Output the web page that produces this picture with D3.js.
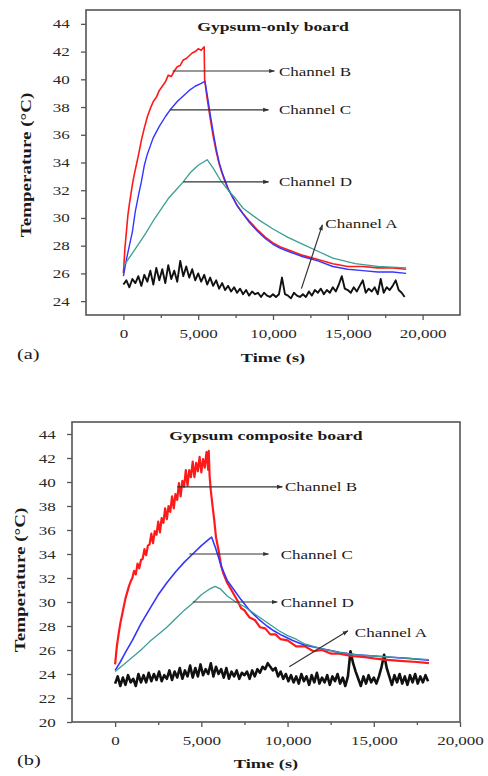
<!DOCTYPE html>
<html><head><meta charset="utf-8">
<script src="https://cdn.jsdelivr.net/npm/d3@7"></script>
<style>
body{margin:0;background:#fff;}
svg{display:block;font-family:"Liberation Serif","Times New Roman",serif;}
</style></head>
<body>
<svg id="chart" width="488" height="776"></svg>
<script>
// ---------------- DATA ----------------
// Panel (a): Gypsum-only board
const a_title = "Gypsum-only board";
const a_xTicks = [0, 5000, 10000, 15000, 20000];
const a_xMinor = [2500, 7500, 12500, 17500];
const a_yTicks = [24, 26, 28, 30, 32, 34, 36, 38, 40, 42, 44];

const a_B_t = [0,100,200,300,400,500,600,700,800,900,1000,1200,1400,1600,1800,2000,2200,2400,2600,2800,3000,3200,3400,3600,3800,4000,4200,4400,4600,4800,5000,5200,5400,5430,5600,5800,6000,6200,6400,6600,6800,7000,7300,7600,8000,8400,9000,9500,10000,10500,11000,12000,13000,14000,15000,16000,17000,18000,18900];
const a_B_v = [26.0,27.8,29.0,30.2,31.0,31.7,32.4,33.0,33.5,34.0,34.5,35.6,36.5,37.3,37.9,38.4,38.7,39.2,39.5,39.8,40.3,40.2,40.6,40.9,41.0,41.4,41.5,41.7,41.9,42.0,42.2,42.1,42.35,40.0,38.6,37.2,35.9,34.8,33.9,33.2,32.6,32.1,31.5,30.9,30.3,29.8,29.1,28.6,28.2,27.9,27.7,27.3,27.0,26.7,26.5,26.5,26.4,26.4,26.3];

const a_C_t = [0,100,200,300,400,600,800,1000,1200,1400,1600,1800,2000,2400,2800,3200,3600,4000,4400,4800,5200,5450,5600,5800,6000,6200,6400,6600,6800,7000,7300,7600,8000,8400,9000,9500,10000,10500,11000,12000,13000,14000,15000,16000,17000,18000,18900];
const a_C_v = [25.8,26.4,27.0,27.5,28.0,29.0,30.5,31.6,32.6,33.8,34.6,35.2,35.8,36.6,37.3,37.9,38.4,38.8,39.2,39.5,39.7,39.85,38.9,37.5,36.2,35.0,34.0,33.3,32.7,32.1,31.5,30.9,30.3,29.7,29.0,28.5,28.1,27.8,27.6,27.2,26.9,26.5,26.3,26.2,26.1,26.1,26.0];

const a_D_t = [0,500,1000,1500,2000,2500,3000,3500,4000,4500,5000,5600,6000,6500,7000,7500,8000,9000,10000,11000,12000,13000,14000,15500,17000,18900];
const a_D_v = [26.5,27.3,28.1,28.9,29.8,30.6,31.4,32.0,32.6,33.3,33.8,34.2,33.6,32.7,32.0,31.4,30.7,29.9,29.2,28.6,28.1,27.6,27.1,26.7,26.5,26.4];

const a_A_step = 200; // sample interval (s)
const a_A_v = [25.2,25.5,25.0,25.6,25.3,25.8,
  25.1,25.9,25.4,26.2,25.2,
  26.4,25.5,26.3,25.3,26.6,
  25.6,26.2,25.4,26.9,25.8,
  26.5,25.7,26.3,25.5,26.0,
  25.4,25.9,25.2,25.7,25.1,
  25.5,24.9,25.3,24.8,25.1,
  24.7,25.0,24.6,24.9,24.5,
  24.8,24.4,24.7,24.5,24.6,
  24.3,24.6,24.4,24.3,24.5,
  24.3,24.5,25.7,24.5,24.4,
  24.2,24.6,24.4,24.3,24.5,
  24.3,24.7,24.4,24.8,24.6,
  24.9,24.5,24.8,24.6,25.0,
  24.7,25.2,25.8,24.9,24.8,
  24.6,25.0,24.7,25.1,25.5,
  24.6,24.9,24.7,25.0,24.5,
  25.6,24.6,25.0,24.8,25.1,
  25.5,24.8,24.6,24.3];

// annotations (data units): [label, fromT, fromTemp, toT, toTemp, labelT, labelTemp]
const a_notes = [
  ["Channel B", 3300, 40.6, 10100, 40.6, 10400, 40.6],
  ["Channel C", 3100, 37.8, 9700, 37.8, 10400, 37.8],
  ["Channel D", 4000, 32.6, 9700, 32.6, 10400, 32.6],
  ["Channel A", 11900, 24.9, 13300, 29.5, 13500, 29.6]
];

// Panel (b): Gypsum composite board
const b_title = "Gypsum composite board";
const b_xTicks = [0, 5000, 10000, 15000, 20000];
const b_xMinor = [2500, 7500, 12500, 17500];
const b_yTicks = [20, 22, 24, 26, 28, 30, 32, 34, 36, 38, 40, 42, 44];

const b_B_t = [0,100,200,300,400,500,600,700,800,900,1000,
  1100,1200,1300,1400,1500,1600,1700,1800,1900,2000,
  2100,2200,2300,2400,2500,2600,2700,2800,2900,3000,
  3100,3200,3300,3400,3500,3600,3700,3800,3900,4000,
  4100,4200,4300,4400,4500,4600,4700,4800,4900,5000,
  5100,5200,5300,5400,5430,5480,5550,5650,5750,5850,6000,6150,6300,6500,6700,6900,7100,7300,7500,7800,8100,8400,8700,9000,9300,9600,10000,10500,11000,11500,12000,12500,13000,13700,14500,15000,15600,16500,17500,18200];
const b_B_v = [24.8,26.3,27.3,28.2,28.9,29.6,30.3,30.8,31.3,31.7,32.0,
  32.6,32.3,33.2,32.8,33.5,33.6,34.4,33.9,34.7,34.8,
  35.7,34.9,35.9,35.6,36.7,35.8,37.0,36.6,37.8,36.9,
  38.0,37.5,38.8,37.8,39.0,38.5,39.9,38.8,40.1,39.6,
  41.0,39.7,41.0,40.4,41.7,40.4,41.6,40.9,42.1,40.8,
  41.9,41.2,42.5,41.0,42.6,40.5,39.3,38.0,36.8,35.4,34.3,33.0,32.3,31.6,31.1,30.6,30.1,29.5,29.3,28.7,28.5,27.9,27.8,27.3,27.3,26.9,26.8,26.3,26.3,25.9,26.0,25.7,25.7,25.5,25.4,25.3,25.2,25.1,25.0,24.9];

const b_C_t = [0,300,600,1000,1500,2000,2500,3000,3500,4000,4500,5000,5500,5600,5800,6000,6200,6500,6900,7300,7800,8300,8800,9200,9700,10300,11000,12000,13000,14000,15000,16000,17000,18200];
const b_C_v = [24.3,25.0,25.8,26.8,28.2,29.4,30.6,31.6,32.5,33.3,34.0,34.7,35.3,35.4,34.6,33.7,32.8,31.8,31.0,30.2,29.3,28.6,28.0,27.6,27.2,26.8,26.4,26.1,25.8,25.6,25.5,25.4,25.3,25.15];

const b_D_t = [0,500,1000,1500,2000,2500,3000,3500,4000,4500,5000,5500,5800,6100,6500,7000,7500,8000,8500,9000,9500,10000,10500,11000,12000,13000,14000,15000,16000,17000,18200];
const b_D_v = [24.2,24.8,25.4,26.0,26.7,27.3,27.9,28.6,29.3,29.9,30.6,31.1,31.3,31.1,30.5,30.0,29.6,29.1,28.6,28.1,27.6,27.2,26.9,26.5,26.1,25.8,25.6,25.5,25.4,25.3,25.2];

const b_A_step = 150; // sample interval (s)
const b_A_v = [23.2,23.8,23.0,23.7,23.1,23.9,23.3,23.6,23.0,24.0,23.3,
  23.9,23.3,24.1,23.4,24.0,23.5,24.2,23.4,23.9,23.6,
  24.3,23.5,24.2,23.7,24.5,23.6,24.3,23.8,24.7,23.7,
  24.5,23.8,24.8,23.9,24.4,24.0,24.9,23.8,24.6,24.0,
  24.4,23.7,24.5,23.6,24.2,23.8,24.3,23.6,24.1,23.9,
  24.2,23.6,24.3,23.8,24.4,24.1,24.6,24.4,24.9,24.6,
  24.3,24.5,23.8,24.2,23.6,24.0,23.4,23.9,23.3,23.8,
  23.2,24.0,23.4,23.8,23.1,23.9,23.3,24.1,23.2,23.7,
  23.3,23.9,23.1,23.8,23.4,24.0,23.2,23.7,23.0,23.8,
  25.9,24.9,24.2,
  23.6,23.0,23.8,23.2,23.9,23.3,23.7,
  23.2,23.8,24.6,25.6,
  24.5,23.8,23.1,23.9,23.3,
  24.0,23.2,23.8,23.1,23.9,23.3,24.0,23.2,23.8,23.3,23.9,23.4];

const b_notes = [
  ["Channel B", 3600, 39.6, 9700, 39.6, 9850, 39.6],
  ["Channel C", 4300, 34.0, 8900, 34.0, 9600, 34.0],
  ["Channel D", 4500, 30.0, 9400, 30.0, 9600, 30.0],
  ["Channel A", 10100, 24.6, 13500, 27.6, 13900, 27.5]
];

const yLabel = "Temperature (\u00B0C)";
const xLabel = "Time (s)";

// ---------------- STYLE ----------------
const colB = "#ff1a1a", colC = "#3535ff", colD = "#3a9e94", colA = "#111111";
const axisCol = "#555";
const SX = 1.36; // horizontal text stretch as in the reference

const svg = d3.select("#chart");
const defs = svg.append("defs");
defs.append("marker").attr("id","arr").attr("viewBox","0 0 10 10")
  .attr("refX",9).attr("refY",5).attr("markerWidth",6).attr("markerHeight",6)
  .attr("markerUnits","userSpaceOnUse").attr("orient","auto")
  .append("path").attr("d","M0,1.5L10,5L0,8.5Z").attr("fill","#333");

function stretchText(g, x, y, s, size, weight, anchor, rot){
  return g.append("text")
    .attr("transform", `translate(${x},${y})` + (rot ? ` rotate(${rot})` : "") + ` scale(${SX},1)`)
    .attr("font-size", size).attr("font-weight", weight || "normal")
    .attr("text-anchor", anchor || "start").attr("fill", "#1a1a1a").text(s);
}

function panel(cfg){
  const x = d3.scaleLinear().domain(cfg.xDom).range([cfg.L, cfg.R]);
  const y = d3.scaleLinear().domain(cfg.yDom).range([cfg.B, cfg.T]);
  const g = svg.append("g");

  g.append("g").attr("transform", `translate(0,${cfg.B})`)
    .call(d3.axisBottom(x).tickValues(cfg.xTicks).tickFormat(d3.format(",")).tickSize(5).tickPadding(9));
  g.append("g").attr("transform", `translate(0,${cfg.B})`)
    .call(d3.axisBottom(x).tickValues(cfg.xMinor).tickFormat("").tickSize(3));
  g.append("g").attr("transform", `translate(${cfg.L},0)`)
    .call(d3.axisLeft(y).tickValues(cfg.yTicks).tickSize(5).tickPadding(7));
  g.selectAll(".domain").remove();
  g.selectAll(".tick line").attr("stroke", axisCol).attr("stroke-width", 1.3);
  g.selectAll(".tick text").attr("font-size", 12.5).attr("fill", "#2a2a2a")
    .attr("font-family", "Liberation Serif, serif").attr("transform", `scale(${SX},1)`);

  g.append("rect").attr("x", cfg.L).attr("y", cfg.T)
    .attr("width", cfg.R - cfg.L).attr("height", cfg.B - cfg.T)
    .attr("fill", "none").attr("stroke", axisCol).attr("stroke-width", 1.6);

  const line = d3.line().x(d => x(d[0])).y(d => y(d[1]));
  const series = [
    {t: cfg.A_v.map((_, i) => i * cfg.A_step), v: cfg.A_v, c: colA, w: cfg.wA},
    {t: cfg.B_t, v: cfg.B_v, c: colB, w: cfg.wB},
    {t: cfg.C_t, v: cfg.C_v, c: colC, w: cfg.wC},
    {t: cfg.D_t, v: cfg.D_v, c: colD, w: cfg.wD}
  ];
  series.forEach(s => {
    g.append("path").datum(s.t.map((tt, i) => [tt, s.v[i]]))
      .attr("d", line).attr("fill", "none").attr("stroke", s.c)
      .attr("stroke-width", s.w).attr("stroke-linejoin", "round");
  });

  cfg.notes.forEach(n => {
    g.append("line").attr("x1", x(n[1])).attr("y1", y(n[2]))
      .attr("x2", x(n[3])).attr("y2", y(n[4]))
      .attr("stroke", "#333").attr("stroke-width", 1.2).attr("marker-end", "url(#arr)");
    stretchText(g, x(n[5]), y(n[6]) + 4.5, n[0], 12.5);
  });

  stretchText(g, (cfg.L + cfg.R) / 2, cfg.titleY, cfg.title, 13, "bold", "middle");
  stretchText(g, (cfg.L + cfg.R) / 2, cfg.xLabY, xLabel, 13.5, "bold", "middle");
  stretchText(g, cfg.yLabX, cfg.yLabY, yLabel, 14, "bold", "middle", -90);
  stretchText(g, cfg.tagX, cfg.xLabY - 3, cfg.tag, 15, "normal", "start");
}

panel({
  L: 86, R: 460, T: 10, B: 315, xDom: [-2500, 22500], yDom: [23, 45],
  xTicks: a_xTicks, xMinor: a_xMinor, yTicks: a_yTicks,
  B_t: a_B_t, B_v: a_B_v, C_t: a_C_t, C_v: a_C_v, D_t: a_D_t, D_v: a_D_v,
  A_v: a_A_v, A_step: a_A_step, notes: a_notes,
  wA: 1.9, wB: 1.6, wC: 1.4, wD: 1.3,
  title: a_title, titleY: 31, xLabY: 362, yLabX: 31, yLabY: 165, tag: "(a)", tagX: 17
});
panel({
  L: 72, R: 460, T: 422, B: 722, xDom: [-2500, 20000], yDom: [20, 45],
  xTicks: b_xTicks, xMinor: b_xMinor, yTicks: b_yTicks,
  B_t: b_B_t, B_v: b_B_v, C_t: b_C_t, C_v: b_C_v, D_t: b_D_t, D_v: b_D_v,
  A_v: b_A_v, A_step: b_A_step, notes: b_notes,
  wA: 2.6, wB: 2.2, wC: 1.6, wD: 1.3,
  title: b_title, titleY: 440, xLabY: 768, yLabX: 25, yLabY: 580, tag: "(b)", tagX: 17
});
</script>
</body></html>
